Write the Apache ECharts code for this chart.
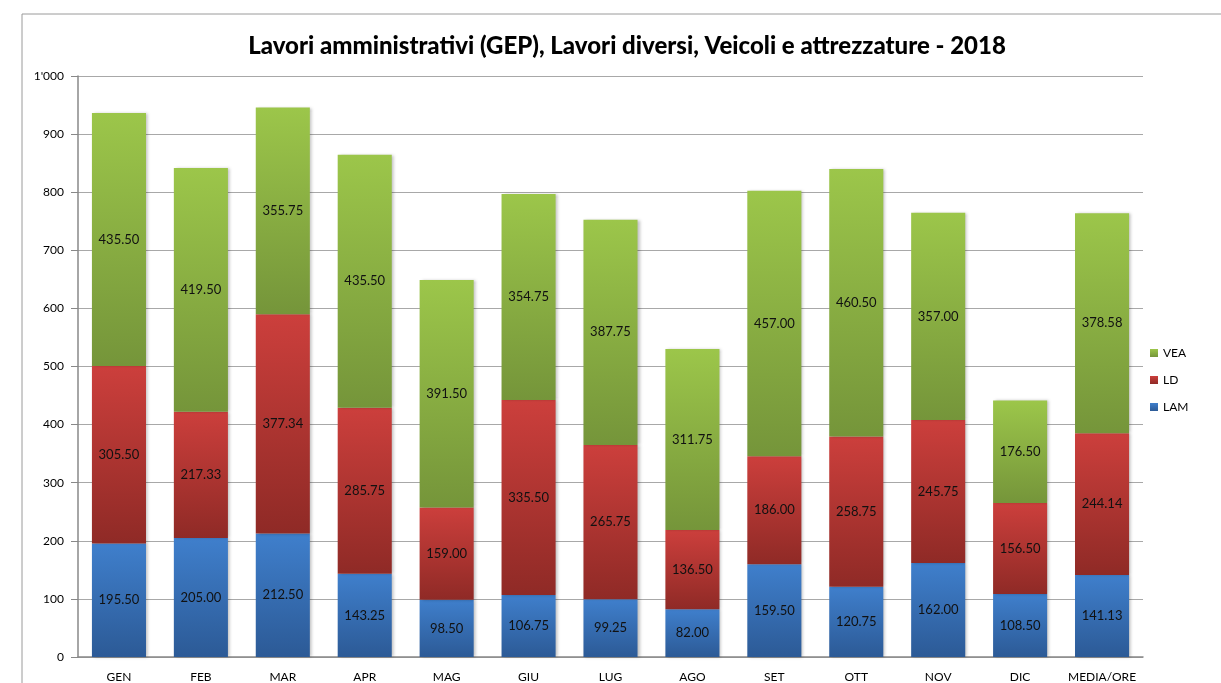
<!DOCTYPE html>
<html>
<head>
<meta charset="utf-8">
<script src="https://cdn.jsdelivr.net/npm/echarts@6/dist/echarts.min.js"></script>
<style>
    html, body { margin: 0; padding: 0; background: #fff; }
    #chart { width: 1221px; height: 683px; }
</style>
</head>
<body>
<div id="chart"></div>
<script>
    // dati 2018
    const mesi = ['GEN', 'FEB', 'MAR', 'APR', 'MAG', 'GIU', 'LUG', 'AGO', 'SET', 'OTT', 'NOV', 'DIC', 'MEDIA/ORE'];
    const lam = [195.50, 205.00, 212.50, 143.25, 98.50, 106.75, 99.25, 82.00, 159.50, 120.75, 162.00, 108.50, 141.13];
    const ld = [305.50, 217.33, 377.34, 285.75, 159.00, 335.50, 265.75, 136.50, 186.00, 258.75, 245.75, 156.50, 244.14];
    const vea = [435.50, 419.50, 355.75, 435.50, 391.50, 354.75, 387.75, 311.75, 457.00, 460.50, 357.00, 176.50, 378.58];

    const font = 'Lato, "Open Sans", sans-serif';

    function grad(top, bottom) {
        return new echarts.graphic.LinearGradient(0, 0, 0, 1, [
            {offset: 0, color: top},
            {offset: 1, color: bottom}
        ]);
    }

    function serie(name, data, top, bottom) {
        return {
            name: name,
            type: 'bar',
            stack: 'tot',
            data: data,
            barWidth: '66%',
            itemStyle: {
                color: grad(top, bottom),
                shadowColor: 'rgba(0,0,0,0.25)',
                shadowBlur: 3,
                shadowOffsetX: 2
            },
            label: {
                show: true,
                position: 'inside',
                color: '#111',
                fontFamily: font,
                fontSize: 13,
                formatter: p => p.value.toFixed(2)
            }
        };
    }

    const chart = echarts.init(document.getElementById('chart'));
    chart.setOption({
        animation: false,
        textStyle: {fontFamily: font},
        graphic: [{
            type: 'rect',
            shape: {x: 22, y: 14, width: 1220, height: 690},
            style: {fill: 'none', stroke: '#9a9a9a', lineWidth: 1}
        }],
        title: {
            text: 'Lavori amministrativi (GEP), Lavori diversi, Veicoli e attrezzature - 2018',
            left: 622,
            textAlign: 'center',
            top: 29,
            textStyle: {fontFamily: font, fontWeight: 900, fontSize: 24, color: '#000'}
        },
        legend: {
            orient: 'vertical',
            left: 1145,
            top: 342,
            itemWidth: 8,
            itemHeight: 8,
            itemGap: 15,
            icon: 'rect',
            data: ['VEA', 'LD', 'LAM'],
            textStyle: {fontFamily: font, fontSize: 12, color: '#000'}
        },
        grid: {left: 78, right: 78, top: 76, bottom: 25},
        xAxis: {
            type: 'category',
            data: mesi,
            axisLine: {lineStyle: {color: '#888', width: 1.5}},
            axisTick: {show: false},
            axisLabel: {color: '#000', fontSize: 12, margin: 14, fontFamily: font, interval: 0}
        },
        yAxis: {
            type: 'value',
            min: 0,
            max: 1000,
            interval: 100,
            axisLine: {show: true, lineStyle: {color: '#888', width: 1.5}},
            axisTick: {show: true, length: 7, lineStyle: {color: '#888'}},
            axisLabel: {
                color: '#000', fontSize: 12, margin: 14, fontFamily: font,
                formatter: v => v >= 1000 ? "1'000" : String(v)
            },
            splitLine: {lineStyle: {color: '#a8a8a8', width: 1.2}}
        },
        series: [
            serie('LAM', lam, '#3f7fcc', '#2c5a96'),
            serie('LD', ld, '#cc3f3c', '#8f2a26'),
            serie('VEA', vea, '#9cc64a', '#75953a')
        ]
    });
</script>
</body>
</html>
